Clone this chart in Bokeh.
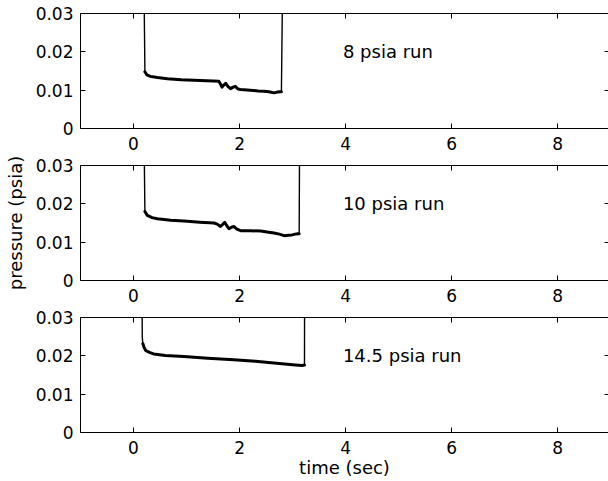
from bokeh.plotting import figure
from bokeh.layouts import column
from bokeh.models import Range1d, LinearAxis, FixedTicker, Label
from bokeh.embed import file_html
from bokeh.resources import INLINE

# ---- data ----
run8_t = [0.18, 0.215, 0.25, 0.32, 0.45, 0.64, 0.90, 1.26, 1.61, 1.64, 1.67, 1.70, 1.74,
          1.78, 1.83, 1.88, 1.92, 1.97, 2.02, 2.20, 2.35, 2.46, 2.55, 2.65, 2.72, 2.77, 2.79, 2.83]
run8_p = [0.06, 0.0148, 0.0140, 0.0136, 0.0133, 0.0130, 0.0127, 0.0125, 0.0123, 0.0116, 0.0108,
          0.0113, 0.0118, 0.0110, 0.0104, 0.0108, 0.0110, 0.0103, 0.0102, 0.0100, 0.0098, 0.0097,
          0.0096, 0.0093, 0.0095, 0.0096, 0.0096, 0.06]

run10_t = [0.18, 0.215, 0.26, 0.35, 0.45, 0.70, 0.95, 1.25, 1.52, 1.58, 1.64, 1.68, 1.72, 1.76,
           1.80, 1.85, 1.89, 1.95, 2.02, 2.20, 2.40, 2.55, 2.65, 2.75, 2.84, 2.92, 2.99, 3.05,
           3.10, 3.125, 3.14]
run10_p = [0.06, 0.0180, 0.0170, 0.0164, 0.0161, 0.0157, 0.0155, 0.0152, 0.0150, 0.0147, 0.0141,
           0.0146, 0.0152, 0.0143, 0.0135, 0.0139, 0.0141, 0.0134, 0.0130, 0.0130, 0.0129, 0.0126,
           0.0124, 0.0121, 0.0117, 0.0118, 0.0119, 0.0121, 0.0122, 0.0122, 0.06]

run145_t = [0.155, 0.165, 0.175, 0.20, 0.23, 0.30, 0.38, 0.60, 0.95, 1.40, 1.89, 2.30, 2.65,
            3.00, 3.18, 3.225, 3.23]
run145_p = [0.06, 0.0250, 0.0232, 0.0222, 0.0214, 0.0209, 0.0205, 0.0201, 0.0198, 0.0194,
            0.0190, 0.0186, 0.0181, 0.0177, 0.0175, 0.0176, 0.06]

run_labels = ["8 psia run", "10 psia run", "14.5 psia run"]
x_ticks = [0, 2, 4, 6, 8]
y_ticks = [0, 0.01, 0.02, 0.03]
y_tick_labels = ["0", "0.01", "0.02", "0.03"]

FONT = "DejaVu Sans"
TICK_SIZE = "17px"
LABEL_SIZE = "18px"


def style_axis(ax, ticks, labels=None, show=True):
    ax.ticker = FixedTicker(ticks=ticks)
    ax.major_tick_in = 5
    ax.major_tick_out = 0
    ax.minor_tick_in = 0
    ax.minor_tick_out = 0
    ax.major_tick_line_color = "black"
    ax.axis_line_color = "black"
    ax.axis_line_width = 1
    ax.major_label_text_font = FONT
    ax.major_label_text_color = "black"
    if show:
        ax.major_label_text_font_size = TICK_SIZE
        if labels is not None:
            ax.major_label_overrides = {t: l for t, l in zip(ticks, labels)}
    else:
        ax.major_label_text_font_size = "0px"
        ax.major_label_standoff = 0
        ax.major_label_overrides = {t: "" for t in ticks}


def panel(t, pr, label, height, top, bottom, thick_start=1, xlabel=None, ylabel=None):
    p = figure(width=608, height=height, x_range=Range1d(-1, 8.96), y_range=Range1d(0, 0.03),
               output_backend="svg", toolbar_location=None,
               min_border_left=80, min_border_right=0, min_border_top=top,
               min_border_bottom=bottom, outline_line_color=None,
               background_fill_color="white", border_fill_color="white")
    p.grid.visible = False
    xax = p.below[0]
    yax = p.left[0]
    style_axis(xax, x_ticks)
    xax.major_label_standoff = 8
    style_axis(yax, y_ticks, y_tick_labels)
    yax.major_label_standoff = 7
    if xlabel:
        xax.axis_label = xlabel
        xax.axis_label_text_font = FONT
        xax.axis_label_text_font_size = LABEL_SIZE
        xax.axis_label_text_font_style = "normal"
        xax.axis_label_text_color = "black"
        xax.axis_label_standoff = 0
    if ylabel:
        yax.axis_label = ylabel
        yax.axis_label_text_font = FONT
        yax.axis_label_text_font_size = LABEL_SIZE
        yax.axis_label_text_font_style = "normal"
        yax.axis_label_text_color = "black"
        yax.axis_label_standoff = 7
    top_ax = LinearAxis()
    style_axis(top_ax, x_ticks, show=False)
    p.add_layout(top_ax, "above")
    right_ax = LinearAxis()
    style_axis(right_ax, y_ticks, show=False)
    right_ax.axis_line_color = None
    right_ax.major_tick_in = 4
    p.add_layout(right_ax, "right")
    # full trace (thin) and noisy plateau (thick)
    p.line(t, pr, line_color="black", line_width=1.4)
    p.line(t[thick_start:-1], pr[thick_start:-1], line_color="black", line_width=3,
           line_join="round", line_cap="round")
    p.add_layout(Label(x=3.95, y=0.02, text=label, text_font=FONT, text_font_size=LABEL_SIZE,
                       text_baseline="middle", text_align="left", text_color="black"))
    return p


p1 = panel(run8_t, run8_p, run_labels[0], 156, 13, 28)
p2 = panel(run10_t, run10_p, run_labels[1], 152, 9, 28, ylabel="pressure (psia)")
p3 = panel(run145_t, run145_p, run_labels[2], 173, 9, 49, thick_start=2, xlabel="time (sec)")

layout = column(p1, p2, p3, spacing=0)
open("out.html", "w").write(file_html(layout, INLINE))
